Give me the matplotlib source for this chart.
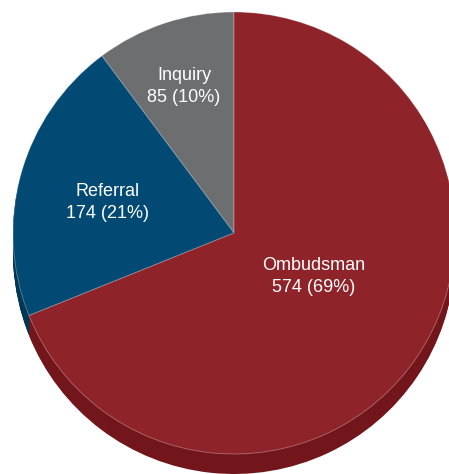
import numpy as np
import matplotlib
matplotlib.use("Agg")
from matplotlib import pyplot as plt

labels = ["Inquiry", "Referral", "Ombudsman"]
counts = [85, 174, 574]
percents = [10, 21, 69]
top_colors = ["#6d6e70", "#024a74", "#8e232a"]
side_colors = ["#4f5052", "#013655", "#72161b"]
label_dist = [0.70, 0.59, 0.41]
label_shift = [0.5, 2.2, 5.4]   # degrees, nudges labels off the mid-angle

W, H = 449, 474
fig = plt.figure(figsize=(W / 100, H / 100), dpi=100)
ax = fig.add_axes([0, 0, 1, 1])

cx, cy = 234, H - 233
r = 221
depth = 20

# side of the disc: stack darker copies downward
for off in np.linspace(depth, 1, 20):
    ax.pie(counts, colors=side_colors, startangle=90, counterclock=True,
           radius=r, center=(cx, cy - off), frame=True,
           wedgeprops=dict(linewidth=0))

wedges, _ = ax.pie(counts, colors=top_colors, startangle=90, counterclock=True,
                   radius=r, center=(cx, cy), frame=True,
                   wedgeprops=dict(linewidth=0.6, edgecolor=(1, 1, 1, 0.35)))

ax.set_xlim(0, W)
ax.set_ylim(0, H)
ax.set_aspect("equal")
ax.axis("off")

for w, lab, n, p, d, s in zip(wedges, labels, counts, percents, label_dist, label_shift):
    ang = np.deg2rad((w.theta1 + w.theta2) / 2 + s)
    x = cx + d * r * np.cos(ang)
    y = cy + d * r * np.sin(ang)
    ax.text(x, y, f"{lab}\n{n} ({p}%)", color="white", ha="center", va="center",
            fontsize=13, family="Liberation Sans", linespacing=1.4)

fig.savefig("out.png", dpi=100)
